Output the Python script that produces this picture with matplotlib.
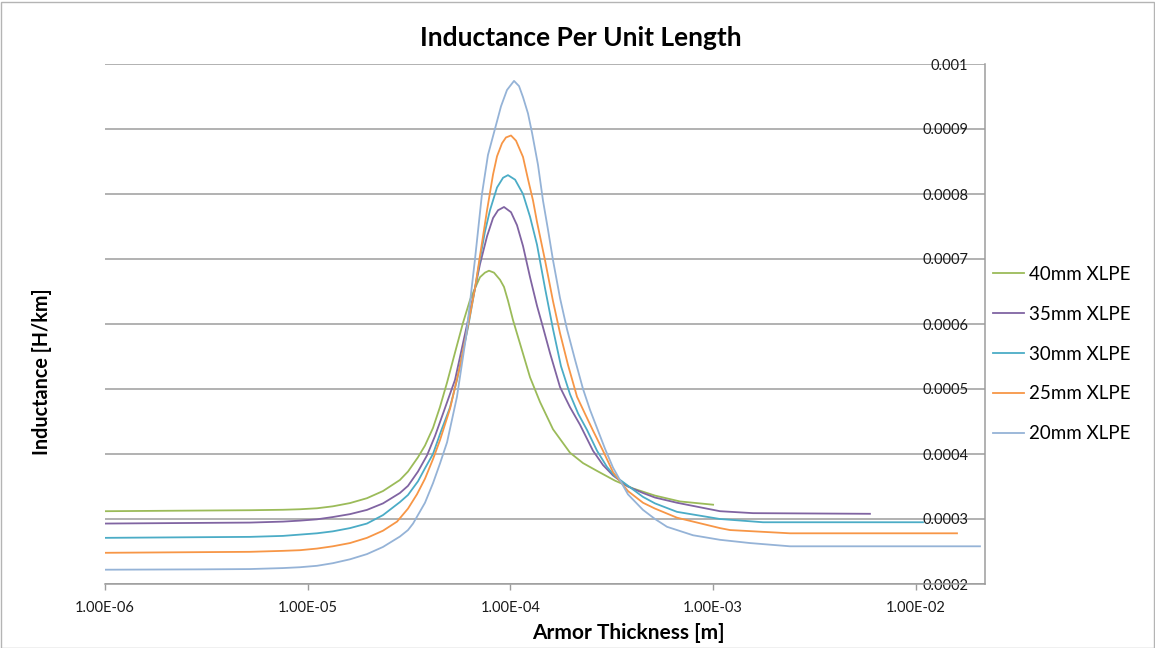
import matplotlib
matplotlib.use("Agg")
import matplotlib.pyplot as plt
from matplotlib.patches import Rectangle

plt.rcParams['font.family'] = ['Lato', 'DejaVu Sans']

# armor thickness [m] and inductance [mH/km]
t_40 = [1.0e-6, 2.94e-6, 5.19e-6, 7.55e-6, 9.16e-6, 1.111e-5, 1.33e-5, 1.617e-5, 1.96e-5,
        2.352e-5, 2.85e-5, 3.125e-5, 3.50e-5, 3.79e-5, 4.15e-5, 4.49e-5, 4.87e-5, 5.33e-5,
        5.84e-5, 6.32e-5, 6.69e-5, 7.08e-5, 7.49e-5, 7.84e-5, 8.30e-5, 8.89e-5, 9.30e-5,
        9.73e-5, 1.03e-4, 1.115e-4, 1.25e-4, 1.40e-4, 1.623e-4, 1.968e-4, 2.282e-4,
        2.675e-4, 3.28e-4, 4.025e-4, 5.17e-4, 6.866e-4, 1.0e-3]
L_40 = [0.312, 0.313, 0.3135, 0.3142, 0.315, 0.3165, 0.3195, 0.3245, 0.332,
        0.343, 0.360, 0.373, 0.395, 0.413, 0.440, 0.472, 0.510, 0.556,
        0.602, 0.637, 0.655, 0.672, 0.679, 0.682, 0.679, 0.668, 0.657,
        0.636, 0.606, 0.570, 0.518, 0.480, 0.438, 0.402, 0.386,
        0.374, 0.359, 0.347, 0.336, 0.327, 0.322]

t_35 = [1.0e-6, 2.94e-6, 5.19e-6, 7.55e-6, 9.16e-6, 1.111e-5, 1.33e-5, 1.617e-5, 1.96e-5,
        2.352e-5, 2.85e-5, 3.125e-5, 3.50e-5, 3.88e-5, 4.25e-5, 4.65e-5, 5.33e-5, 6.18e-5,
        6.69e-5, 7.08e-5, 7.67e-5, 8.21e-5, 8.69e-5, 9.30e-5, 1.007e-4, 1.078e-4, 1.154e-4,
        1.25e-4, 1.353e-4, 1.448e-4, 1.569e-4, 1.757e-4, 1.968e-4, 2.205e-4, 2.556e-4,
        2.863e-4, 3.209e-4, 3.80e-4, 4.51e-4, 5.17e-4, 6.636e-4, 1.081e-3, 1.574e-3, 5.94e-3]
L_35 = [0.293, 0.294, 0.2945, 0.296, 0.2975, 0.2995, 0.303, 0.3075, 0.314,
        0.324, 0.340, 0.351, 0.373, 0.398, 0.428, 0.462, 0.514, 0.606,
        0.655, 0.692, 0.735, 0.763, 0.775, 0.780, 0.772, 0.752, 0.720,
        0.672, 0.628, 0.595, 0.555, 0.503, 0.472, 0.445, 0.405,
        0.383, 0.367, 0.350, 0.340, 0.333, 0.325, 0.312, 0.309, 0.308]

t_30 = [1.0e-6, 2.94e-6, 5.19e-6, 7.55e-6, 9.16e-6, 1.111e-5, 1.33e-5, 1.617e-5, 1.96e-5,
        2.352e-5, 2.85e-5, 3.125e-5, 3.50e-5, 3.79e-5, 4.15e-5, 4.546e-5, 5.04e-5, 5.45e-5,
        6.18e-5, 6.69e-5, 7.08e-5, 7.49e-5, 7.93e-5, 8.59e-5, 9.20e-5, 9.73e-5, 1.055e-4,
        1.154e-4, 1.25e-4, 1.353e-4, 1.482e-4, 1.623e-4, 1.777e-4, 1.968e-4, 2.16e-4,
        2.388e-4, 2.675e-4, 2.997e-4, 3.28e-4, 4.51e-4, 5.17e-4, 6.636e-4, 1.081e-3,
        1.763e-3, 1.085e-2]
L_30 = [0.271, 0.272, 0.2725, 0.274, 0.276, 0.278, 0.281, 0.286, 0.293,
        0.306, 0.326, 0.337, 0.358, 0.378, 0.400, 0.435, 0.472, 0.514,
        0.595, 0.655, 0.700, 0.742, 0.775, 0.810, 0.825, 0.829, 0.822,
        0.800, 0.765, 0.722, 0.655, 0.592, 0.535, 0.492, 0.462,
        0.437, 0.405, 0.380, 0.366, 0.334, 0.324, 0.311, 0.300,
        0.295, 0.295]

t_25 = [1.0e-6, 2.94e-6, 5.19e-6, 7.55e-6, 9.16e-6, 1.111e-5, 1.33e-5, 1.617e-5, 1.96e-5,
        2.352e-5, 2.76e-5, 3.125e-5, 3.46e-5, 3.79e-5, 4.15e-5, 4.49e-5, 5.04e-5, 5.64e-5,
        6.18e-5, 6.69e-5, 7.08e-5, 7.67e-5, 8.21e-5, 8.59e-5, 9.09e-5, 9.51e-5, 1.007e-4,
        1.066e-4, 1.154e-4, 1.221e-4, 1.293e-4, 1.353e-4, 1.482e-4, 1.623e-4, 1.757e-4,
        1.924e-4, 2.132e-4, 2.333e-4, 2.556e-4, 2.863e-4, 3.209e-4, 3.80e-4, 4.51e-4,
        5.17e-4, 6.636e-4, 1.081e-3, 1.212e-3, 2.395e-3, 1.597e-2]
L_25 = [0.248, 0.249, 0.2495, 0.251, 0.252, 0.2545, 0.258, 0.263, 0.271,
        0.282, 0.296, 0.316, 0.338, 0.362, 0.392, 0.421, 0.470, 0.535,
        0.598, 0.655, 0.705, 0.775, 0.830, 0.858, 0.878, 0.887, 0.890,
        0.882, 0.857, 0.823, 0.790, 0.757, 0.698, 0.635, 0.586,
        0.537, 0.488, 0.462, 0.436, 0.405, 0.372, 0.343, 0.325,
        0.316, 0.302, 0.286, 0.283, 0.278, 0.278]

t_20 = [1.0e-6, 2.94e-6, 5.19e-6, 7.55e-6, 9.16e-6, 1.111e-5, 1.33e-5, 1.617e-5, 1.96e-5,
        2.352e-5, 2.85e-5, 3.125e-5, 3.31e-5, 3.79e-5, 4.15e-5, 4.49e-5, 4.87e-5, 5.45e-5,
        6.04e-5, 6.69e-5, 7.24e-5, 7.75e-5, 8.39e-5, 8.99e-5, 9.62e-5, 1.042e-4, 1.103e-4,
        1.154e-4, 1.221e-4, 1.279e-4, 1.368e-4, 1.448e-4, 1.533e-4, 1.623e-4, 1.757e-4,
        1.902e-4, 2.084e-4, 2.282e-4, 2.47e-4, 2.675e-4, 2.93e-4, 3.209e-4, 3.80e-4,
        4.51e-4, 5.17e-4, 5.925e-4, 7.96e-4, 1.081e-3, 1.52e-3, 2.395e-3, 2.073e-2]
L_20 = [0.222, 0.2225, 0.223, 0.2245, 0.2258, 0.228, 0.232, 0.238, 0.246,
        0.257, 0.273, 0.283, 0.293, 0.325, 0.355, 0.385, 0.418, 0.488,
        0.580, 0.700, 0.800, 0.860, 0.900, 0.935, 0.960, 0.974, 0.966,
        0.949, 0.924, 0.894, 0.845, 0.790, 0.745, 0.698, 0.640,
        0.592, 0.545, 0.500, 0.468, 0.440, 0.408, 0.379, 0.338,
        0.314, 0.300, 0.288, 0.275, 0.268, 0.263, 0.258, 0.258]

labels = ['40mm XLPE', '35mm XLPE', '30mm XLPE', '25mm XLPE', '20mm XLPE']
colors = ['#9BBB59', '#8064A2', '#4BACC6', '#F79646', '#95B3D7']
series = [(t_40, L_40), (t_35, L_35), (t_30, L_30), (t_25, L_25), (t_20, L_20)]

x_ticks = [1e-6, 1e-5, 1e-4, 1e-3, 1e-2]
x_ticklabels = ['1.00E-06', '1.00E-05', '1.00E-04', '1.00E-03', '1.00E-02']
y_ticks = [0.0002, 0.0003, 0.0004, 0.0005, 0.0006, 0.0007, 0.0008, 0.0009, 0.001]
y_ticklabels = ['0.0002', '0.0003', '0.0004', '0.0005', '0.0006', '0.0007', '0.0008', '0.0009', '0.001']

fig = plt.figure(figsize=(11.55, 6.48), dpi=100)
ax = fig.add_axes([105/1155, 1 - 584/648, 880/1155, 520/648])

for (t, L), lab, c in zip(series, labels, colors):
    # mH/km -> H/km
    ax.plot(t, [v * 1e-3 for v in L], color=c, lw=1.3, label=lab)

ax.set_xscale('log')
ax.set_xlim(1e-6, 2.195e-2)
ax.set_ylim(0.0002, 0.001)
ax.set_xticks(x_ticks)
ax.set_xticklabels(x_ticklabels)
ax.minorticks_off()
ax.set_yticks(y_ticks)
ax.set_yticklabels(y_ticklabels)

grid_c = '#9C9C9C'
ax.grid(axis='y', color=grid_c, lw=1.1)
ax.set_axisbelow(True)
for s in ['left', 'top']:
    ax.spines[s].set_visible(False)
for s in ['right', 'bottom']:
    ax.spines[s].set_color(grid_c)
    ax.spines[s].set_linewidth(1.1)

ax.tick_params(axis='x', direction='out', length=4, width=1, color=grid_c,
               labelsize=10.5, labelcolor='#1a1a1a', pad=8)
ax.yaxis.tick_right()
ax.tick_params(axis='y', length=0, pad=-12, labelsize=10.5, labelcolor='#1a1a1a')
plt.setp(ax.get_yticklabels(), ha='right')

fig.text(581/1155, 1 - 38/648, 'Inductance Per Unit Length', ha='center', va='center',
         fontsize=19, fontweight='bold')
fig.text(628/1155, 1 - 633/648, 'Armor Thickness [m]', ha='center', va='center',
         fontsize=15, fontweight='bold')
fig.text(42/1155, 1 - 372/648, 'Inductance [H/km]', ha='center', va='center',
         rotation=90, fontsize=14.2, fontweight='bold')

ax.legend(loc='center left', bbox_to_anchor=(993/1155, 1 - 354/648),
          bbox_transform=fig.transFigure, frameon=False, fontsize=13.5,
          handlelength=1.65, handletextpad=0.25, labelspacing=1.22,
          borderpad=0, borderaxespad=0)

fig.patches.append(Rectangle((0.5/1155, 0.5/648), 1153/1155, 646/648,
                             transform=fig.transFigure, fill=False,
                             edgecolor='#B4B4B4', lw=1))

fig.savefig('out.png', dpi=100)
